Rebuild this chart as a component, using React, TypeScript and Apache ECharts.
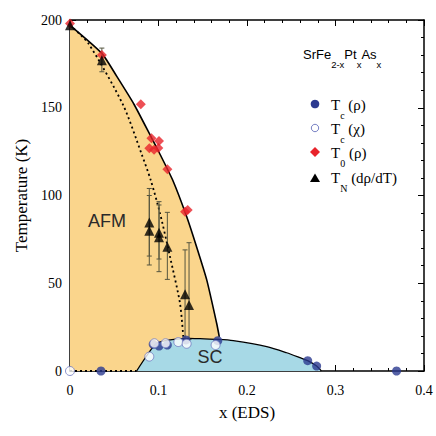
import React, { useEffect, useRef } from "react";
import * as echarts from "echarts";

// Tc(rho): filled blue circles
const tcRhoX = [0.035, 0.094, 0.1006, 0.11, 0.131, 0.167, 0.2686, 0.2787, 0.369];
const tcRhoY = [0, 15.2, 14.2, 14.8, 17.7, 17.3, 5.9, 2.8, 0];
// Tc(chi): open circles
const tcChiX = [0, 0.0896, 0.0953, 0.108, 0.1224, 0.1318, 0.1645];
const tcChiY = [0, 8.2, 15.8, 15.8, 16.5, 15.5, 14.8];
// T0(rho): red diamonds
const t0X = [0, 0.036, 0.08, 0.092, 0.1006, 0.0896, 0.095, 0.0998, 0.11, 0.13, 0.133];
const t0Y = [198, 180, 152, 132.6, 131, 126.9, 126, 127, 115, 90.7, 91.7];
// TN(drho/dT): black triangles
const tnX = [0, 0.036, 0.0896, 0.0896, 0.1006, 0.1006, 0.11, 0.13, 0.1345];
const tnY = [197, 177, 84.6, 79.9, 78.8, 76.2, 70.8, 43.7, 37.6];
// error bars of TN
const ebX = [0.036, 0.0896, 0.0896, 0.1006, 0.1006, 0.11, 0.13, 0.1345];
const ebLow = [170.5, 65.5, 60.4, 63.8, 56.6, 52.2, 18, 18];
const ebHigh = [184, 104, 100, 96.5, 94.6, 90.4, 69, 73.1];
// AFM boundary (solid)
const afmX = [0, 0.036, 0.0527, 0.0723, 0.092, 0.1017, 0.116, 0.1318, 0.143, 0.1545, 0.1657, 0.1687];
const afmY = [197, 181, 168, 152, 133, 123.5, 108.8, 88, 70.8, 51.9, 27.2, 19.5];
// dotted line
const dotX = [0, 0.0207, 0.06, 0.081, 0.0912, 0.1017, 0.113, 0.1243, 0.128];
const dotY = [197, 186.7, 151.6, 123.5, 108.8, 89.9, 65.1, 38.6, 19.5];
// SC dome
const scX = [0.0753, 0.096, 0.105, 0.12, 0.135, 0.147, 0.168, 0.1845, 0.2223, 0.2448, 0.2599, 0.2686, 0.2787, 0.284];
const scY = [0, 15, 17, 18.2, 18.6, 18.4, 18, 17.3, 13.9, 10.4, 7.6, 5.9, 2.8, 0];
// bottom dotted segment
const botX = [0, 0.0753];
const botY = [0, 0];

const xTicks = ["0", "0.1", "0.2", "0.3", "0.4"];

const pairs = (xs: number[], ys: number[]) => xs.map((x, i) => [x, ys[i]]);

const BLUE = "#2B3990";
const RED = "#E8232B";
const ORANGE = "#FAD58C";
const LIGHTBLUE = "#A7D9E6";
const SERIF = "'Liberation Serif', 'Times New Roman', serif";
const SANS = "'Liberation Sans', Arial, sans-serif";

export default function App() {
  const ref = useRef<HTMLDivElement>(null);
  useEffect(() => {
    const chart = echarts.init(ref.current!, null, { renderer: "svg" });

    const axisBase = (min: number, max: number, interval: number, position: string, labels: boolean) => ({
      type: "value",
      min,
      max,
      interval,
      position,
      axisLine: { show: true, onZero: false, lineStyle: { color: "#000", width: 1.5 } },
      axisTick: { show: true, inside: true, length: 6, lineStyle: { color: "#000", width: 1 } },
      minorTick: { show: true, splitNumber: 5, length: 3, lineStyle: { color: "#000", width: 1 } },
      splitLine: { show: false },
      minorSplitLine: { show: false },
      axisLabel: { show: labels },
    });

    const legendRich = (color: string) => ({
      m: { fontFamily: SERIF, fontSize: 15, color, lineHeight: 30, verticalAlign: "middle" },
      s: { fontFamily: SERIF, fontSize: 10, color, verticalAlign: "bottom" },
    });

    chart.setOption({
      animation: false,
      grid: { left: 70, right: 12, top: 20, bottom: 65 },
      xAxis: [
        {
          ...axisBase(0, 0.4, 0.1, "bottom", true),
          axisLabel: {
            show: true,
            margin: 12,
            fontFamily: SERIF,
            fontSize: 14,
            color: "#000",
            formatter: (v: number) => xTicks[Math.round(v * 10)] ?? "",
          },
          name: "x (EDS)",
          nameLocation: "middle",
          nameGap: 33,
          nameTextStyle: { fontFamily: SERIF, fontSize: 17, color: "#000" },
        },
        { ...axisBase(0, 0.4, 0.1, "top", false) },
      ],
      yAxis: [
        {
          ...axisBase(0, 200, 50, "left", true),
          axisLabel: { show: true, margin: 8, fontFamily: SERIF, fontSize: 14, color: "#000" },
          name: "Temperature (K)",
          nameLocation: "middle",
          nameGap: 40,
          nameTextStyle: { fontFamily: SERIF, fontSize: 17, color: "#000" },
        },
        { ...axisBase(0, 200, 50, "right", false) },
      ],
      series: [
        {
          type: "line",
          data: pairs(afmX, afmY),
          smooth: 0.2,
          symbol: "none",
          lineStyle: { color: "#000", width: 1.6 },
          areaStyle: { color: ORANGE, opacity: 1 },
          z: 2,
        },
        {
          type: "line",
          data: pairs(scX, scY),
          smooth: 0.25,
          symbol: "none",
          lineStyle: { color: "#000", width: 1.3 },
          areaStyle: { color: LIGHTBLUE, opacity: 1 },
          z: 2,
        },
        {
          type: "line",
          data: pairs(dotX, dotY),
          smooth: 0.25,
          symbol: "none",
          lineStyle: { color: "#000", width: 1.8, type: [2, 3] },
          z: 3,
        },
        {
          type: "line",
          data: pairs(botX, botY),
          symbol: "none",
          lineStyle: { color: "#000", width: 1.8, type: [2, 3] },
          z: 3,
        },
        {
          type: "custom",
          data: ebX.map((x, i) => [x, ebLow[i], ebHigh[i]]),
          encode: { x: 0, y: [1, 2] },
          z: 4,
          renderItem: (params: any, api: any) => {
            const x = api.value(0);
            const lo = api.coord([x, api.value(1)]);
            const hi = api.coord([x, api.value(2)]);
            const w = 2.5;
            const st = { stroke: "#55553f", lineWidth: 1 };
            return {
              type: "group",
              children: [
                { type: "line", shape: { x1: hi[0], y1: hi[1], x2: lo[0], y2: lo[1] }, style: st },
                { type: "line", shape: { x1: hi[0] - w, y1: hi[1], x2: hi[0] + w, y2: hi[1] }, style: st },
                { type: "line", shape: { x1: lo[0] - w, y1: lo[1], x2: lo[0] + w, y2: lo[1] }, style: st },
              ],
            };
          },
        },
        {
          name: "Tc(rho)",
          type: "scatter",
          data: pairs(tcRhoX, tcRhoY),
          symbol: "circle",
          symbolSize: 9,
          itemStyle: { color: BLUE },
          z: 5,
        },
        {
          name: "Tc(chi)",
          type: "scatter",
          data: pairs(tcChiX, tcChiY),
          symbol: "circle",
          symbolSize: 9,
          itemStyle: { color: "#fff", borderColor: "#6f79c0", borderWidth: 1 },
          z: 6,
        },
        {
          name: "T0(rho)",
          type: "scatter",
          data: pairs(t0X, t0Y),
          symbol: "diamond",
          symbolSize: 10,
          itemStyle: { color: RED },
          z: 7,
        },
        {
          name: "TN",
          type: "scatter",
          data: pairs(tnX, tnY),
          symbol: "triangle",
          symbolSize: 10,
          itemStyle: { color: "#000" },
          z: 8,
        },
      ],
      graphic: [
        {
          type: "text",
          x: 303,
          y: 54,
          z: 100,
          style: {
            text: "{m|SrFe}{s|2-x}{m|Pt}{s|x}{m|As}{s|x}",
            verticalAlign: "middle",
            rich: {
              m: { fontFamily: SANS, fontSize: 13, color: "#000", lineHeight: 30, verticalAlign: "middle" },
              s: { fontFamily: SANS, fontSize: 9.5, color: "#000", verticalAlign: "bottom" },
            },
          },
        },
        { type: "circle", z: 100, shape: { cx: 315, cy: 104, r: 4.3 }, style: { fill: BLUE } },
        { type: "circle", z: 100, shape: { cx: 315, cy: 128, r: 3.7 }, style: { fill: "#fff", stroke: "#7780c4", lineWidth: 1 } },
        { type: "polygon", z: 100, shape: { points: [[315, 147], [320, 152], [315, 157], [310, 152]] }, style: { fill: RED } },
        { type: "polygon", z: 100, shape: { points: [[315, 173.5], [320, 182], [310, 182]] }, style: { fill: "#000" } },
        {
          type: "text", x: 331, y: 105, z: 100,
          style: { text: "{m|T}{s|c}{m| (ρ)}", verticalAlign: "middle", rich: legendRich(BLUE) },
        },
        {
          type: "text", x: 331, y: 129, z: 100,
          style: { text: "{m|T}{s|c}{m| (χ)}", verticalAlign: "middle", rich: legendRich(BLUE) },
        },
        {
          type: "text", x: 331, y: 153, z: 100,
          style: { text: "{m|T}{s|0}{m| (ρ)}", verticalAlign: "middle", rich: legendRich(RED) },
        },
        {
          type: "text", x: 331, y: 178, z: 100,
          style: { text: "{m|T}{s|N}{m| (dρ/dT)}", verticalAlign: "middle", rich: legendRich("#000") },
        },
        {
          type: "text", x: 107, y: 221, z: 100,
          style: { text: "AFM", fontFamily: SANS, fontSize: 18, fill: "#2a2a2a", align: "center", verticalAlign: "middle" },
        },
        {
          type: "text", x: 210, y: 357, z: 100,
          style: { text: "SC", fontFamily: SANS, fontSize: 18, fill: "#2a2a2a", align: "center", verticalAlign: "middle" },
        },
      ],
    });
    return () => chart.dispose();
  }, []);
  return (
    <div
      ref={ref}
      style={{ position: "fixed", left: 0, top: 0, width: 436, height: 436, background: "#fff" }}
    />
  );
}
